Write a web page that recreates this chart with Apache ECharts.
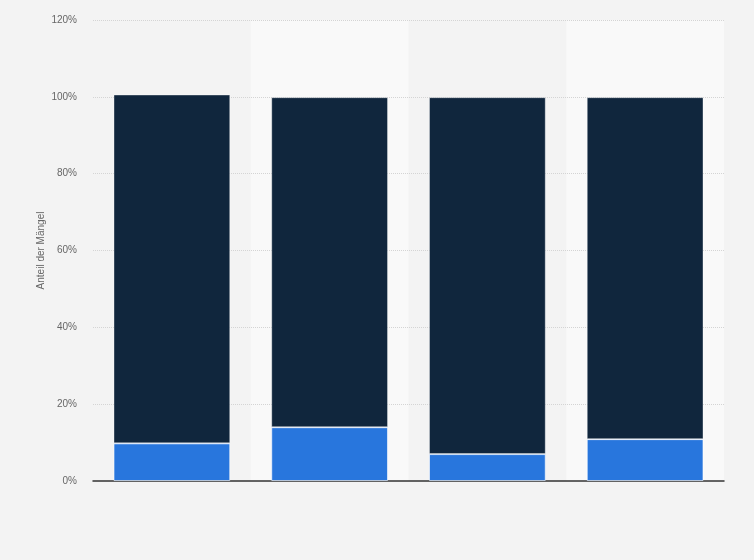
<!DOCTYPE html>
<html>
<head>
<meta charset="utf-8">
<script src="https://cdn.jsdelivr.net/npm/echarts@6/dist/echarts.min.js"></script>
<style>
html,body{margin:0;padding:0;background:#f3f3f3;}
#chart{width:754px;height:560px;}
</style>
</head>
<body>
<div id="chart"></div>
<script>
var categories = ['1', '2', '3', '4'];
var blueValues = [9.8, 14.0, 7.0, 10.9];
var darkValues = [90.8, 85.9, 92.9, 89.0];
var yTicks = [0, 20, 40, 60, 80, 100, 120];

var chart = echarts.init(document.getElementById('chart'));
chart.setOption({
  backgroundColor: '#f3f3f3',
  animation: false,
  grid: { left: 93, right: 30, top: 20, bottom: 79 },
  xAxis: {
    type: 'category',
    data: categories,
    z: 1,
    axisLabel: { show: false },
    axisTick: { show: false },
    axisLine: { show: true, lineStyle: { color: '#333', width: 1.5 } },
    splitArea: { show: true, areaStyle: { color: ['rgba(0,0,0,0)', '#f9f9f9'] } }
  },
  yAxis: {
    type: 'value',
    z: 2,
    min: yTicks[0],
    max: yTicks[yTicks.length - 1],
    interval: 20,
    name: 'Anteil der Mängel',
    nameLocation: 'middle',
    nameMoveOverlap: false,
    nameGap: 47,
    nameTextStyle: { color: '#666', fontSize: 10, fontFamily: 'Arial, Liberation Sans, sans-serif' },
    axisLabel: {
      color: '#666', fontSize: 10, margin: 16,
      fontFamily: 'Arial, Liberation Sans, sans-serif',
      formatter: function (v) { return v + '%'; }
    },
    axisLine: { show: false },
    axisTick: { show: false },
    splitLine: { showMinLine: false, lineStyle: { color: '#d4d4d4', type: [1, 1], width: 1 } }
  },
  series: [
    {
      type: 'bar', stack: 'total', data: blueValues, barWidth: '74%', z: 3,
      itemStyle: { color: '#2876dd', borderColor: 'rgba(255,255,255,0.6)', borderWidth: 1 }
    },
    {
      type: 'bar', stack: 'total', data: darkValues, barWidth: '74%', z: 3,
      itemStyle: { color: '#10263d', borderColor: 'rgba(255,255,255,0.35)', borderWidth: 1 }
    }
  ]
});
</script>
</body>
</html>
